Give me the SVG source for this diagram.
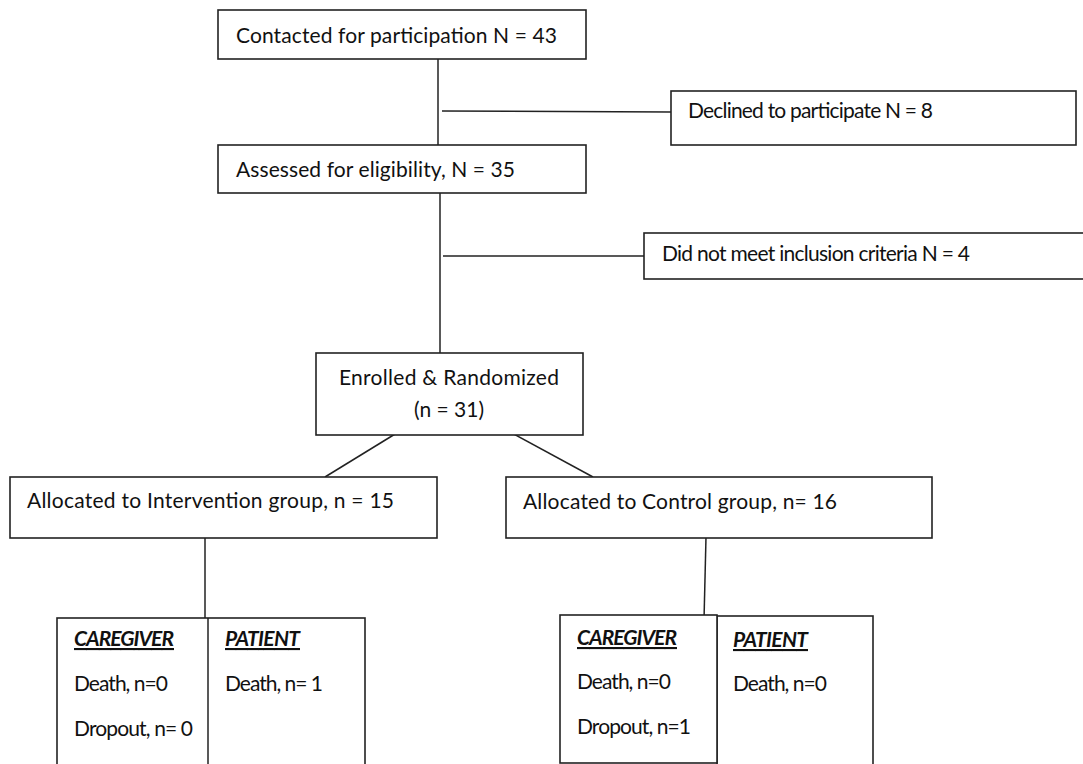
<svg xmlns="http://www.w3.org/2000/svg" width="1083" height="764" viewBox="0 0 1083 764">
<style>
.box{fill:#fff;stroke:#222;stroke-width:1.6}
.ln{fill:none;stroke:#222;stroke-width:1.5}
text{font-family:Lato,"Open Sans","Liberation Sans",sans-serif;font-size:21px;fill:#111}
.h{font-weight:bold;font-style:italic;text-decoration:underline}
</style>
<rect width="1083" height="764" fill="#fff"/>
<g id="connectors">
<line class="ln" x1="438" y1="59" x2="438" y2="145"/>
<line class="ln" x1="442" y1="111" x2="671" y2="112"/>
<line class="ln" x1="440" y1="193" x2="440" y2="357"/>
<line class="ln" x1="443" y1="256" x2="644" y2="256"/>
<line class="ln" x1="400" y1="431" x2="325" y2="477"/>
<line class="ln" x1="508" y1="431" x2="593" y2="477"/>
<line class="ln" x1="205" y1="533" x2="205" y2="618"/>
<line class="ln" x1="706" y1="537" x2="704" y2="620"/>
</g>
<g id="contacted">
<rect class="box" x="218" y="10" width="368" height="49"/>
<text x="236" y="43" textLength="321">Contacted for participation N = 43</text>
</g>
<g id="declined">
<rect class="box" x="671" y="91" width="405" height="54"/>
<text x="688" y="118" textLength="245">Declined to participate N = 8</text>
</g>
<g id="assessed">
<rect class="box" x="218" y="145" width="368" height="48"/>
<text x="236" y="177" textLength="279">Assessed for eligibility, N = 35</text>
</g>
<g id="notmeet">
<rect class="box" x="644" y="233" width="450" height="46"/>
<text x="662" y="261" textLength="308">Did not meet inclusion criteria N = 4</text>
</g>
<g id="enrolled">
<rect class="box" x="316" y="353" width="267" height="82"/>
<text x="339" y="385" textLength="220">Enrolled &amp; Randomized</text>
<text x="414" y="417" textLength="70">(n = 31)</text>
</g>
<g id="intervention">
<rect class="box" x="10" y="477" width="427" height="61"/>
<text x="27" y="508" textLength="367">Allocated to Intervention group, n = 15</text>
</g>
<g id="control">
<rect class="box" x="506" y="477" width="426" height="61"/>
<text x="523" y="509" textLength="314">Allocated to Control group, n= 16</text>
</g>
<g id="int-outcomes">
<rect class="box" x="57" y="618" width="308" height="160"/>
<line class="ln" x1="208" y1="618" x2="208" y2="764"/>
<text class="h" x="74" y="646" textLength="100">CAREGIVER</text>
<text x="74" y="691" textLength="94">Death, n=0</text>
<text x="74" y="736" textLength="119">Dropout, n= 0</text>
<text class="h" x="225" y="646" textLength="75">PATIENT</text>
<text x="225" y="691" textLength="98">Death, n= 1</text>
</g>
<g id="ctl-patient">
<rect class="box" x="717" y="616" width="156" height="160"/>
<text class="h" x="733" y="647" textLength="75">PATIENT</text>
<text x="733" y="691" textLength="94">Death, n=0</text>
</g>
<g id="ctl-caregiver">
<rect class="box" x="560" y="615" width="157" height="148"/>
<text class="h" x="577" y="645" textLength="100">CAREGIVER</text>
<text x="577" y="689" textLength="94">Death, n=0</text>
<text x="577" y="734" textLength="114">Dropout, n=1</text>
</g>
</svg>
